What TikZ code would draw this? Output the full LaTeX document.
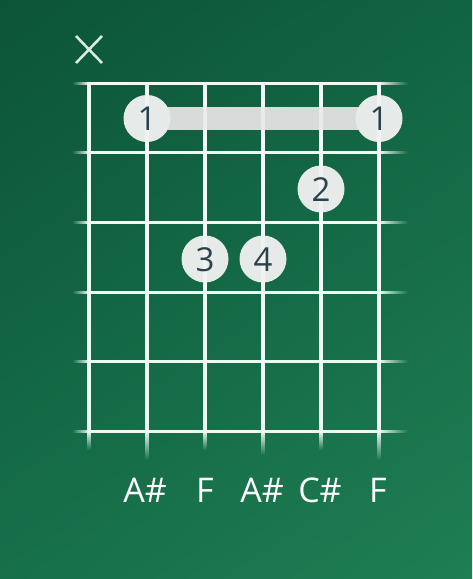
\documentclass[tikz,border=0pt]{standalone}
\usepackage{fontspec}
\setmainfont{Open Sans}
\usetikzlibrary{fadings,shadings}
\definecolor{bgA}{RGB}{12,84,56}
\definecolor{bgB}{RGB}{17,100,66}
\definecolor{bgC}{RGB}{22,112,74}
\definecolor{bgD}{RGB}{31,126,84}
\definecolor{dotfill}{RGB}{230,234,232}
\definecolor{barfill}{RGB}{217,219,218}
\definecolor{digit}{RGB}{44,66,76}
\definecolor{linecol}{RGB}{240,250,245}
\definecolor{xcol}{RGB}{215,235,225}
\tikzset{
  fretline/.style={line width=3pt, draw=linecol},
  stringline/.style={line width=4pt, draw=linecol},
  fingerdot/.style={circle, fill=dotfill, minimum size=47pt, inner sep=0pt},
  fingertxt/.style={text=digit, font=\fontsize{33}{33}\selectfont, inner sep=0pt, anchor=base},
  notetxt/.style={text=white, font=\fontsize{34}{34}\selectfont, inner sep=0pt, anchor=base},
}
\begin{document}
\begin{tikzpicture}[x=1pt,y=-1pt]
\useasboundingbox (0,0) rectangle (472,579);
\shade[upper left=bgA, upper right=bgB, lower left=bgC, lower right=bgD] (0,0) rectangle (472,579);
% muted X
\draw[line width=2.6pt, draw=xcol] (76,36) -- (102,63) (102,36) -- (76,63);
% frets
\foreach \y in {83,152.7,222.3,292,361.7,431.3} {
  \draw[fretline] (89,\y) -- (379,\y);
  \fill[linecol, path fading=west] (72,\y-1.5) rectangle (89,\y+1.5);
  \fill[linecol, path fading=east] (379,\y-1.5) rectangle (408,\y+1.5);
}
% strings
\foreach \x/\e in {89/450,147/460,205/450,263/455,321/450,379/460} {
  \draw[stringline] (\x,81.5) -- (\x,431);
  \fill[linecol, path fading=south] (\x-2,431) rectangle (\x+2,\e);
}
% barre
\fill[barfill] (147,107) rectangle (379,130);
\node[fingerdot] (b1) at (147,118.5) {};
\node[fingerdot] (b6) at (379,118.5) {};
\node[fingerdot] (d2) at (321,189) {};
\node[fingerdot] (d3) at (205,259) {};
\node[fingerdot] (d4) at (263,259) {};
% strings faintly visible through the dots
\foreach \x in {147,205,263,321,379} {
  \draw[stringline, draw=white, opacity=0.45] (\x,90) -- (\x,290);
}
\node[fingertxt] (t1) at (147,130.5) {1};
\node[fingertxt] (t6) at (379,130.5) {1};
\node[fingertxt] (t2) at (321,201) {2};
\node[fingertxt] (t3) at (205,271) {3};
\node[fingertxt] (t4) at (263,271) {4};
% note names
\node[notetxt] (n2) at (145,502) {A\#};
\node[notetxt] (n3) at (205,502) {F};
\node[notetxt] (n4) at (262,502) {A\#};
\node[notetxt] (n5) at (320,502) {C\#};
\node[notetxt] (n6) at (378,502) {F};
\end{tikzpicture}
\end{document}
